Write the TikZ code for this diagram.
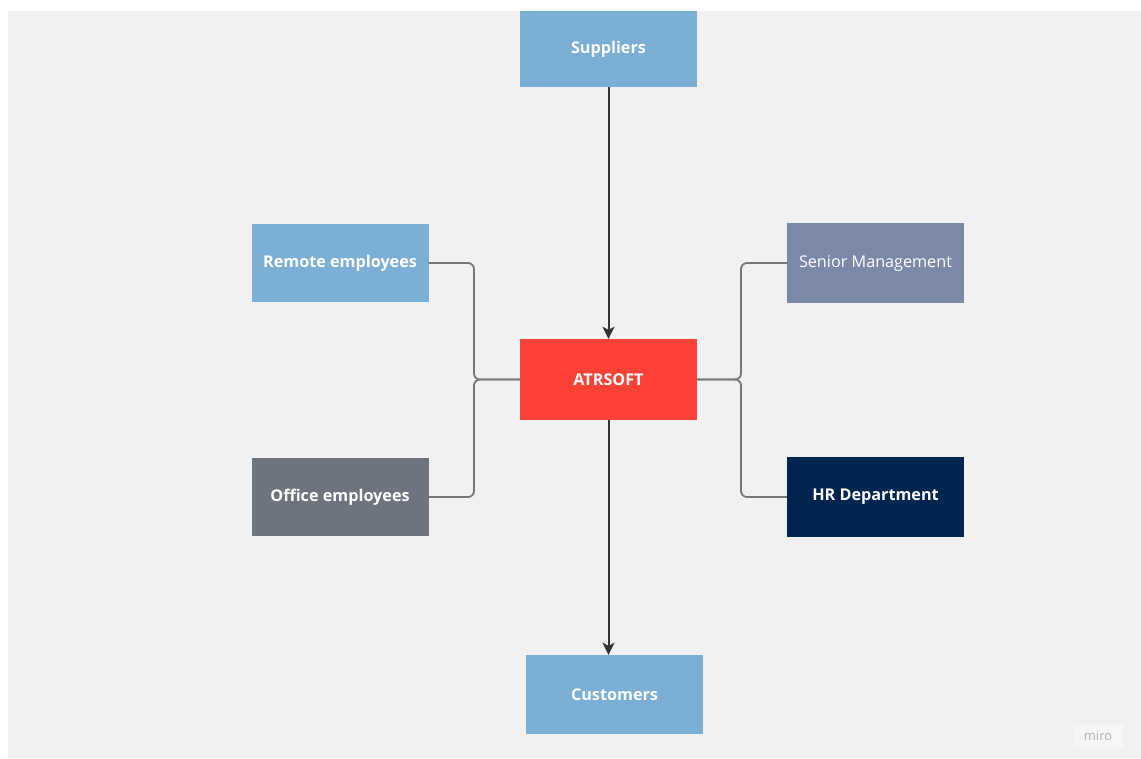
\documentclass[tikz,border=0pt]{standalone}
\usepackage{fontspec}
\usepackage{xcolor}
\setmainfont{Open Sans}
\usetikzlibrary{arrows.meta}

\definecolor{canvas}{HTML}{F1F1F1}
\definecolor{skyblue}{HTML}{7BAFD6}
\definecolor{coral}{HTML}{FC4136}
\definecolor{slate}{HTML}{6E747E}
\definecolor{steel}{HTML}{7A89A8}
\definecolor{navy}{HTML}{00254F}
\definecolor{wire}{HTML}{777777}
\definecolor{ink}{HTML}{333333}

\begin{document}
\begin{tikzpicture}[x=1pt,y=-1pt,
  box/.style={minimum width=177pt,minimum height=78pt,inner sep=0pt,
    text=white,font=\fontsize{16.2}{19}\selectfont\bfseries},
  link/.style={wire,line width=1.8pt,rounded corners=6pt},
  flow/.style={ink,line width=2pt,-{Stealth[length=12pt,width=12pt,inset=3pt]}}]
\useasboundingbox (0,0) rectangle (1141,758);
\fill[white] (0,0) rectangle (1141,758);
\fill[canvas] (8,11) rectangle (1141,758);

% boxes
\node[box,fill=skyblue,minimum height=76pt] (suppliers) at (608.5,49) {Suppliers};
\node[box,fill=coral,minimum height=81pt] (atrsoft) at (608.5,379.5) {ATRSOFT};
\node[box,fill=skyblue] (remote) at (340,263) {Remote employees};
\node[box,fill=slate] (office) at (340,497) {Office employees};
\node[box,fill=steel,minimum height=80pt,font=\fontsize{16.2}{19}\selectfont] (senior) at (875.5,263) {Senior Management};
\node[box,fill=navy,minimum height=80pt] (hr) at (875.5,497) {HR Department};
\node[box,fill=skyblue,minimum height=79pt] (customers) at (614.5,694.5) {Customers};

% junctions
\coordinate (jl) at (474,379.5);
\coordinate (jr) at (741,379.5);

\draw[link] (remote.east) -| (jl) -- (atrsoft.west);
\draw[link] (office.east) -| (jl) -- (atrsoft.west);
\draw[link] (senior.west) -| (jr) -- (atrsoft.east);
\draw[link] (hr.west) -| (jr) -- (atrsoft.east);

\draw[flow] (suppliers.south) -- (atrsoft.north);
\draw[flow] (atrsoft.south) -- (customers.north -| atrsoft.south);

% watermark
\node[fill=white!35!canvas,minimum width=50pt,minimum height=25pt,
  text=gray!60,font=\fontsize{13}{15}\selectfont] (miro) at (1098,736) {miro};
\end{tikzpicture}
\end{document}
